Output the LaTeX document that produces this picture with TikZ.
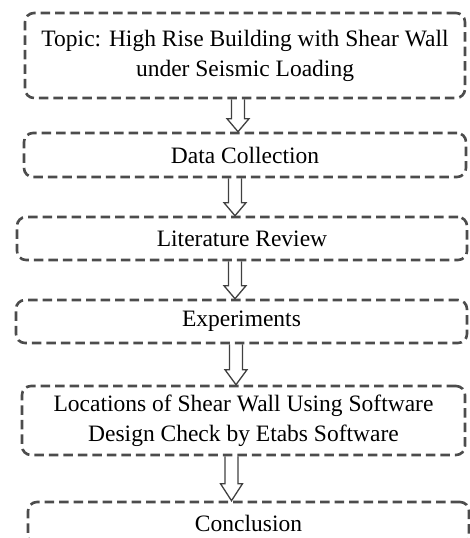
\documentclass[tikz,border=0pt]{standalone}
\usepackage{fontspec}
\setmainfont{Liberation Serif}
\usetikzlibrary{calc}
\tikzset{
  flowbox/.style={draw=black!70, line width=2.6pt, dash pattern=on 9.5pt off 5pt,
    rounded corners=9pt, inner sep=0pt, align=center,
    font=\fontsize{23.5}{30}\selectfont},
  harrow/.style={draw=black!75, line width=1.3pt, line join=miter},
}
\newcommand\hollowarrow[4]{%
  \draw[harrow] let \p1=(#1.south), \p2=(#2.north) in
    (#3pt-6.5pt,\y1) -- (#3pt-6.5pt,\y2+#4pt) -- (#3pt-11pt,\y2+#4pt) -- (#3pt,\y2)
    -- (#3pt+11pt,\y2+#4pt) -- (#3pt+6.5pt,\y2+#4pt) -- (#3pt+6.5pt,\y1);
}
\begin{document}
\begin{tikzpicture}[x=1pt,y=-1pt]
\useasboundingbox (0,0) rectangle (470,538);
\clip (0,0) rectangle (470,538);
\node[flowbox, minimum width=440pt, minimum height=85pt] (topic) at (245,55.5)
  {Topic: High Rise Building with Shear Wall\\under Seismic Loading};
\node[flowbox, minimum width=442pt, minimum height=44pt] (data) at (245,155)
  {Data Collection};
\node[flowbox, minimum width=450pt, minimum height=43pt] (lit) at (242,238.5)
  {Literature Review};
\node[flowbox, minimum width=451pt, minimum height=43pt] (exp) at (241.5,321.5)
  {Experiments};
\node[flowbox, minimum width=443pt, minimum height=69pt] (loc) at (243.5,420.5)
  {Locations of Shear Wall Using Software\\Design Check by Etabs Software};
\node[flowbox, minimum width=441pt, minimum height=42pt] (concl) at (248.5,523)
  {Conclusion};
\hollowarrow{topic}{data}{238}{13}
\hollowarrow{data}{lit}{235}{13}
\hollowarrow{lit}{exp}{235}{13}
\hollowarrow{exp}{loc}{236}{15}
\hollowarrow{loc}{concl}{231.5}{17}
\end{tikzpicture}
\end{document}
